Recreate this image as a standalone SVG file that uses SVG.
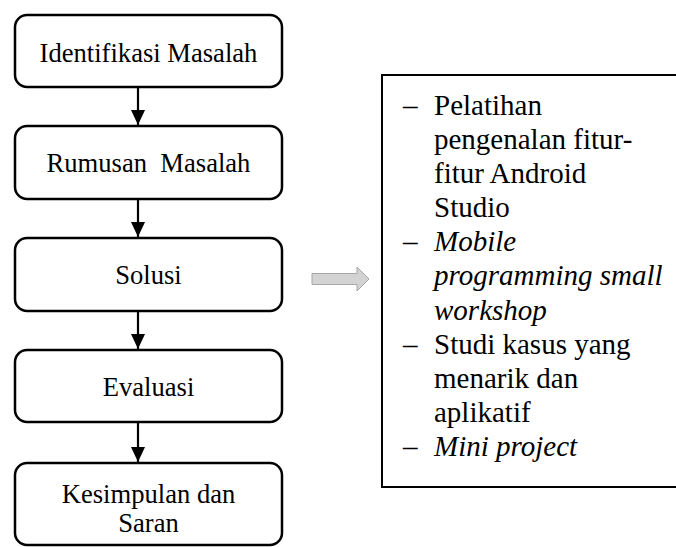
<svg xmlns="http://www.w3.org/2000/svg" width="676" height="547" viewBox="0 0 676 547">
<style>
.box{fill:#fff;stroke:#000;stroke-width:2.5}
.t{font-family:"Liberation Serif","Times New Roman",serif;font-size:26.6px;fill:#000;text-anchor:middle}
.r{font-family:"Liberation Serif","Times New Roman",serif;font-size:29px;fill:#000}
.i{font-style:italic}
.ln{stroke:#000;stroke-width:2.2;fill:none}
</style>
<defs>
<marker id="ah" viewBox="0 0 15 14" refX="15" refY="7" markerWidth="15" markerHeight="14" markerUnits="userSpaceOnUse" orient="auto">
<path d="M0,0 L15,7 L0,14 Z" fill="#000"/>
</marker>
</defs>
<rect width="676" height="547" fill="#fff"/>
<g id="connectors">
<line class="ln" x1="138" y1="87" x2="138" y2="125" marker-end="url(#ah)"/>
<line class="ln" x1="138" y1="199" x2="138" y2="237" marker-end="url(#ah)"/>
<line class="ln" x1="138" y1="311" x2="138" y2="349" marker-end="url(#ah)"/>
<line class="ln" x1="138" y1="422" x2="138" y2="462" marker-end="url(#ah)"/>
<path d="M312,273.5 L357,273.5 L357,267 L369,279 L357,291 L357,284.5 L312,284.5 Z" fill="#d3d3d3" stroke="#a6a6a6" stroke-width="1"/>
</g>
<g id="n1"><rect class="box" x="15" y="15" width="267" height="72" rx="12"/><text class="t" x="148.5" y="62">Identifikasi Masalah</text></g>
<g id="n2"><rect class="box" x="15" y="126" width="267" height="73" rx="12"/><text class="t" x="148.5" y="172" xml:space="preserve">Rumusan  Masalah</text></g>
<g id="n3"><rect class="box" x="15" y="238" width="267" height="73" rx="12"/><text class="t" x="148.5" y="284">Solusi</text></g>
<g id="n4"><rect class="box" x="15" y="350" width="267" height="72" rx="12"/><text class="t" x="148.5" y="396">Evaluasi</text></g>
<g id="n5"><rect class="box" x="15" y="463" width="267" height="82" rx="12"/><text class="t" x="148.5" y="503">Kesimpulan dan</text><text class="t" x="148.5" y="532">Saran</text></g>
<g id="n6">
<rect x="382" y="75" width="310" height="412" fill="#fff" stroke="#000" stroke-width="2"/>
<text class="r" x="403" y="115">–</text><text class="r" x="434" y="115">Pelatihan</text>
<text class="r" x="434" y="149">pengenalan fitur-</text>
<text class="r" x="434" y="183">fitur Android</text>
<text class="r" x="434" y="217">Studio</text>
<text class="r" x="403" y="251">–</text><text class="r i" x="434" y="251">Mobile</text>
<text class="r i" x="434" y="285">programming small</text>
<text class="r i" x="434" y="320">workshop</text>
<text class="r" x="403" y="354">–</text><text class="r" x="434" y="354">Studi kasus yang</text>
<text class="r" x="434" y="388">menarik dan</text>
<text class="r" x="434" y="422">aplikatif</text>
<text class="r" x="403" y="456">–</text><text class="r i" x="434" y="456">Mini project</text>
</g>
</svg>
